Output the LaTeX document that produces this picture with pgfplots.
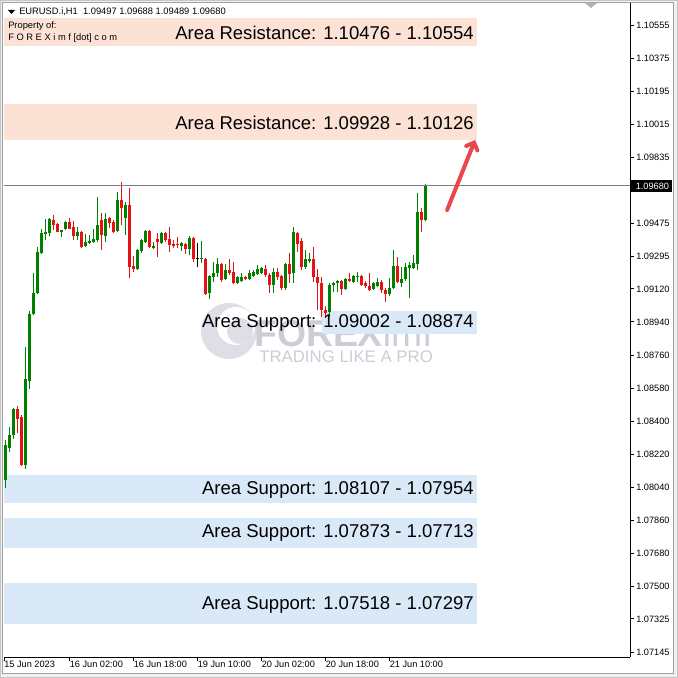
\documentclass[border=0pt]{standalone}
\usepackage{fontspec}
\setmainfont{Liberation Sans}
\usepackage{pgfplots}
\pgfplotsset{compat=1.18}
\usepackage{pgfplotstable}
\usetikzlibrary{arrows.meta}

\definecolor{bull}{RGB}{0,128,0}
\definecolor{bear}{RGB}{228,18,18}
\definecolor{resband}{RGB}{252,226,212}
\definecolor{supband}{RGB}{217,233,248}
\definecolor{pline}{RGB}{120,128,144}
\definecolor{arrowred}{RGB}{232,72,72}
\definecolor{wm}{RGB}{222,222,230}
\definecolor{wmtext}{RGB}{205,205,215}
\definecolor{winbg}{RGB}{240,240,240}
\definecolor{winline}{RGB}{160,160,160}

\pgfplotstableread{
i o h l c
0 1.08081 1.08298 1.08037 1.08271
1 1.08255 1.08369 1.08233 1.08326
2 1.08326 1.08472 1.08304 1.08467
5 1.08162 1.08804 1.08141 1.08630
6 1.08619 1.09000 1.08576 1.08984
7 1.08984 1.09206 1.08978 1.09098
8 1.09098 1.09348 1.09092 1.09321
9 1.09315 1.09446 1.09310 1.09424
10 1.09419 1.09500 1.09386 1.09429
11 1.09424 1.09506 1.09408 1.09500
14 1.09429 1.09440 1.09402 1.09440
15 1.09446 1.09489 1.09440 1.09484
18 1.09408 1.09457 1.09386 1.09429
20 1.09353 1.09419 1.09348 1.09375
21 1.09370 1.09413 1.09364 1.09380
22 1.09375 1.09446 1.09370 1.09391
23 1.09386 1.09620 1.09375 1.09467
25 1.09408 1.09533 1.09375 1.09500
28 1.09435 1.09647 1.09429 1.09603
30 1.09506 1.09593 1.09413 1.09576
33 1.09228 1.09337 1.09223 1.09332
34 1.09326 1.09391 1.09315 1.09386
35 1.09375 1.09440 1.09370 1.09435
37 1.09342 1.09375 1.09337 1.09353
39 1.09370 1.09429 1.09364 1.09424
44 1.09353 1.09375 1.09326 1.09370
46 1.09337 1.09408 1.09304 1.09397
49 1.09283 1.09380 1.09261 1.09288
51 1.09098 1.09196 1.09065 1.09190
52 1.09185 1.09266 1.09158 1.09206
53 1.09206 1.09288 1.09185 1.09255
55 1.09174 1.09255 1.09168 1.09223
58 1.09152 1.09190 1.09147 1.09185
59 1.09163 1.09206 1.09158 1.09185
61 1.09174 1.09223 1.09168 1.09206
62 1.09190 1.09223 1.09185 1.09212
63 1.09201 1.09250 1.09196 1.09228
64 1.09206 1.09239 1.09201 1.09234
67 1.09141 1.09234 1.09098 1.09212
70 1.09125 1.09261 1.09114 1.09255
72 1.09206 1.09457 1.09152 1.09429
75 1.09239 1.09332 1.09228 1.09283
76 1.09272 1.09315 1.09261 1.09283
81 1.08994 1.09152 1.08967 1.09141
82 1.09141 1.09158 1.09103 1.09152
83 1.09152 1.09168 1.09103 1.09163
85 1.09119 1.09179 1.09114 1.09174
87 1.09158 1.09196 1.09152 1.09190
88 1.09185 1.09212 1.09158 1.09190
92 1.09119 1.09158 1.09114 1.09152
93 1.09136 1.09179 1.09130 1.09158
96 1.09092 1.09179 1.09081 1.09125
97 1.09125 1.09332 1.09119 1.09245
99 1.09152 1.09239 1.09130 1.09174
100 1.09174 1.09261 1.09163 1.09239
101 1.09234 1.09266 1.09071 1.09250
102 1.09234 1.09304 1.09228 1.09261
103 1.09255 1.09641 1.09223 1.09538
105 1.09497 1.09688 1.09489 1.09680
}\bulltab

\pgfplotstableread{
i o h l c
3 1.08467 1.08483 1.08336 1.08413
4 1.08423 1.08434 1.08157 1.08162
12 1.09495 1.09522 1.09440 1.09467
13 1.09473 1.09478 1.09429 1.09429
16 1.09484 1.09506 1.09446 1.09446
17 1.09457 1.09489 1.09386 1.09408
19 1.09429 1.09435 1.09342 1.09348
24 1.09495 1.09533 1.09332 1.09413
26 1.09506 1.09511 1.09451 1.09478
27 1.09484 1.09495 1.09424 1.09429
29 1.09603 1.09701 1.09467 1.09560
31 1.09576 1.09669 1.09179 1.09239
32 1.09245 1.09299 1.09212 1.09228
36 1.09435 1.09440 1.09342 1.09348
38 1.09391 1.09424 1.09293 1.09375
40 1.09424 1.09429 1.09375 1.09386
41 1.09391 1.09457 1.09321 1.09359
42 1.09364 1.09386 1.09342 1.09353
43 1.09364 1.09402 1.09342 1.09359
45 1.09364 1.09370 1.09310 1.09337
47 1.09397 1.09402 1.09266 1.09283
50 1.09283 1.09288 1.09087 1.09092
54 1.09255 1.09261 1.09158 1.09168
56 1.09223 1.09283 1.09196 1.09206
57 1.09212 1.09266 1.09147 1.09152
60 1.09185 1.09190 1.09168 1.09174
65 1.09228 1.09250 1.09185 1.09196
66 1.09196 1.09206 1.09098 1.09141
68 1.09212 1.09234 1.09168 1.09185
69 1.09190 1.09196 1.09114 1.09125
71 1.09255 1.09315 1.09152 1.09201
73 1.09424 1.09429 1.09321 1.09364
74 1.09380 1.09397 1.09223 1.09239
77 1.09283 1.09348 1.09158 1.09185
78 1.09185 1.09228 1.09005 1.09152
79 1.09152 1.09185 1.08967 1.09005
80 1.09005 1.09027 1.08962 1.08989
84 1.09163 1.09168 1.09087 1.09119
86 1.09174 1.09206 1.09158 1.09163
89 1.09190 1.09196 1.09136 1.09141
90 1.09152 1.09163 1.09125 1.09136
91 1.09136 1.09206 1.09109 1.09114
94 1.09158 1.09168 1.09098 1.09114
95 1.09114 1.09125 1.09049 1.09092
98 1.09245 1.09293 1.09152 1.09158
104 1.09538 1.09560 1.09429 1.09495
}\beartab

\pgfplotstableread{
i o h l c
48 1.09288 1.09370 1.09239 1.09288
}\dojitab

\begin{document}
\begin{tikzpicture}
% window background
\fill[winbg] (0,0) rectangle (508.5pt,508.5pt);
\useasboundingbox (0,0) rectangle (508.5pt,508.5pt);
\begin{scope}[shift={(0,508.5pt)}, x=0.75pt, y=-0.75pt]
  \fill[white] (3,3) rectangle (673,673);
  \draw[winline, line width=0.75pt] (2.5,2.5) rectangle (673.5,673.5);
  \draw[winline!60, line width=0.75pt] (0.5,0.5) rectangle (677.5,677.5);
  % watermark
  \fill[wm] (229,331) circle (28);
  \fill[white] (236,326) circle (19);
  \fill[wm] (240,331) circle (13);
  \node[anchor=west, inner sep=0pt, text=wmtext, font=\fontsize{28}{30}\selectfont\bfseries] at (254,333) {FOREX\mdseries imf};
  \node[anchor=west, inner sep=0pt, text=wmtext, font=\fontsize{12.6}{14}\selectfont] at (259,357) {TRADING LIKE A PRO};
\end{scope}

\begin{axis}[
  at={(3pt,15.75pt)}, anchor=south west,
  scale only axis, width=469.5pt, height=490.5pt,
  xmin=-0.375, xmax=156.125, ymin=1.07118, ymax=1.10675,
  axis x line*=bottom, axis y line*=right,
  axis line style={black, line width=0.75pt, -},
  tick align=outside, major tick length=3pt,
  tick style={black, line width=0.75pt},
  xtick={-0.375,16,32,48,64,80,96},
  xticklabels={15 Jun 2023,16 Jun 02:00,16 Jun 18:00,19 Jun 10:00,20 Jun 02:00,20 Jun 18:00,21 Jun 10:00},
  xticklabel style={anchor=north west, inner sep=0pt, yshift=0pt, font=\fontsize{6.9}{8}\selectfont},
  ytick={1.10555,1.10375,1.10195,1.10015,1.09835,1.09655,1.09475,1.09295,1.09120,1.08940,1.08760,1.08580,1.08400,1.08220,1.08040,1.07860,1.07680,1.07500,1.07325,1.07145},
  yticklabels={1.10555,1.10375,1.10195,1.10015,1.09835,,1.09475,1.09295,1.09120,1.08940,1.08760,1.08580,1.08400,1.08220,1.08040,1.07860,1.07680,1.07500,1.07325,1.07145},
  yticklabel style={anchor=west, inner sep=0pt, xshift=1.5pt, font=\fontsize{6.9}{8}\selectfont},
  clip=true,
]
% resistance / support areas
\addplot[fill=resband, draw=none] coordinates {(-0.375,1.10441) (117.9,1.10441) (117.9,1.10593) (-0.375,1.10593)} -- cycle;
\addplot[fill=resband, draw=none] coordinates {(-0.375,1.09928) (117.9,1.09928) (117.9,1.10126) (-0.375,1.10126)} -- cycle;
\addplot[fill=supband, draw=none] coordinates {(79.1,1.08874) (117.9,1.08874) (117.9,1.09002) (79.1,1.09002)} -- cycle;
\addplot[fill=supband, draw=none] coordinates {(-0.375,1.07954) (117.9,1.07954) (117.9,1.08107) (-0.375,1.08107)} -- cycle;
\addplot[fill=supband, draw=none] coordinates {(-0.375,1.07713) (117.9,1.07713) (117.9,1.07873) (-0.375,1.07873)} -- cycle;
\addplot[fill=supband, draw=none] coordinates {(-0.375,1.07297) (117.9,1.07297) (117.9,1.07518) (-0.375,1.07518)} -- cycle;

% bullish candles: wicks and bodies
\addplot[draw=none, mark=none, error bars/.cd, y dir=plus, y explicit, error mark=none, error bar style={line width=0.75pt, draw=bull}]
  table[x=i, y=l, y error plus expr={\thisrow{h}-\thisrow{l}}] {\bulltab};
\addplot[draw=none, mark=none, error bars/.cd, y dir=plus, y explicit, error mark=none, error bar style={line width=2.25pt, draw=bull}]
  table[x=i, y=o, y error plus expr={\thisrow{c}-\thisrow{o}}] {\bulltab};
% bearish candles
\addplot[draw=none, mark=none, error bars/.cd, y dir=plus, y explicit, error mark=none, error bar style={line width=0.75pt, draw=bear}]
  table[x=i, y=l, y error plus expr={\thisrow{h}-\thisrow{l}}] {\beartab};
\addplot[draw=none, mark=none, error bars/.cd, y dir=plus, y explicit, error mark=none, error bar style={line width=2.25pt, draw=bear}]
  table[x=i, y=c, y error plus expr={\thisrow{o}-\thisrow{c}}] {\beartab};
% doji
\addplot[draw=none, mark=none, error bars/.cd, y dir=plus, y explicit, error mark=none, error bar style={line width=0.75pt, draw=black}]
  table[x=i, y=l, y error plus expr={\thisrow{h}-\thisrow{l}}] {\dojitab};
\addplot[only marks, mark=-, mark size=1.125pt, black, mark options={line width=0.75pt}]
  table[x=i, y=c] {\dojitab};

% current price line
\addplot[pline, line width=0.75pt] coordinates {(-0.375,1.09680) (156.125,1.09680)};
% arrow
\addplot[arrowred, line width=3pt, line cap=round, -{Straight Barb[length=4.5pt, width=9pt, line cap=round]}] coordinates {(110.4,1.09549) (117.4,1.09930)};
\end{axis}

\begin{scope}[shift={(0,508.5pt)}, x=0.75pt, y=-0.75pt]
  % current price box
  \fill[black] (631,180) rectangle (672,192);
  \node[anchor=west, inner sep=0pt, text=white, font=\fontsize{6.9}{8}\selectfont] at (635.5,186) {1.09680};
  % chart shift marker
  \fill[gray!60] (585,3) -- (597,3) -- (591,8) -- cycle;
  % header
  \fill[black] (8,10) -- (15,10) -- (11.5,14) -- cycle;
  \node[anchor=west, inner sep=0pt, font=\fontsize{7}{8}\selectfont] at (19,12) {EURUSD.i,H1\ \ 1.09497 1.09688 1.09489 1.09680};
  \node[anchor=west, inner sep=0pt, font=\fontsize{7}{8}\selectfont] at (8,26) {Property of:};
  \node[anchor=west, inner sep=0pt, font=\fontsize{7}{8}\selectfont] at (8,38) {F O R E X i m f [dot] c o m};
  % area labels
  \begin{scope}[every node/.style={anchor=east, inner sep=0pt, font=\fontsize{13.9}{16}\selectfont}]
    \node at (474,33) {Area Resistance: 1.10476 - 1.10554};
    \node at (474,123) {Area Resistance: 1.09928 - 1.10126};
    \node at (474,323) {Area Support: 1.09002 - 1.08874};
    \node at (474,490) {Area Support: 1.08107 - 1.07954};
    \node at (474,533) {Area Support: 1.07873 - 1.07713};
    \node at (474,605) {Area Support: 1.07518 - 1.07297};
  \end{scope}
\end{scope}
\end{tikzpicture}
\end{document}
